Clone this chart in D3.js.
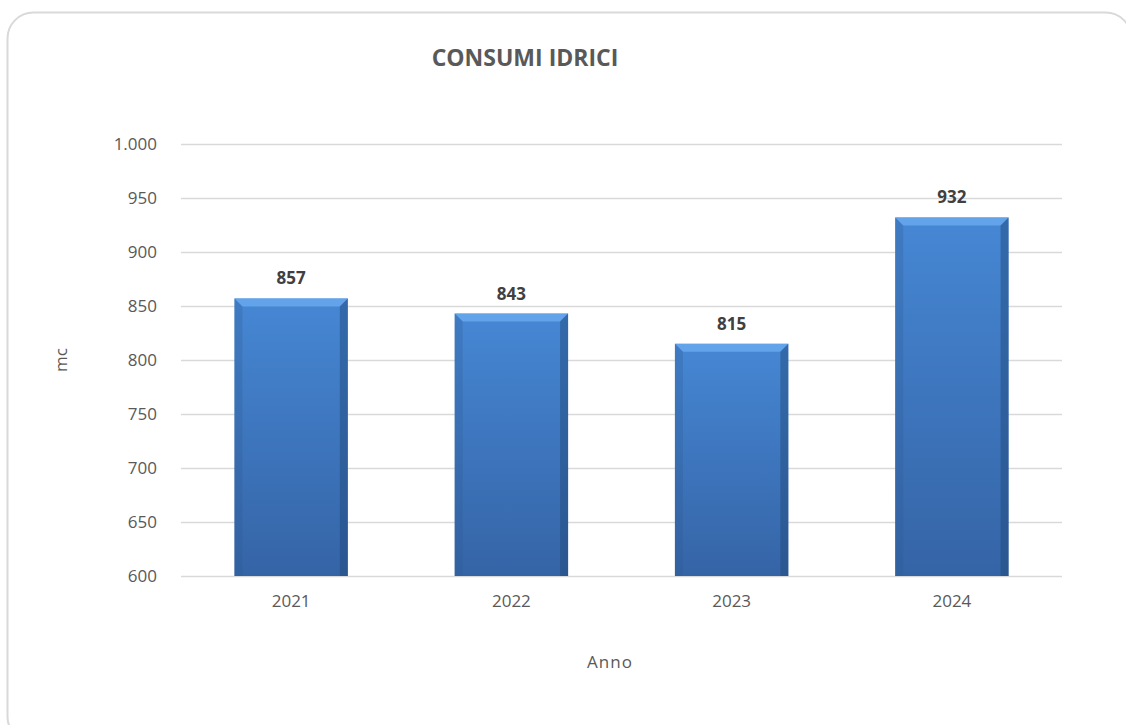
<!DOCTYPE html>
<html>
<head>
<meta charset="utf-8">
<script src="https://cdn.jsdelivr.net/npm/d3@7"></script>
<style>
  html, body { margin: 0; padding: 0; background: #fff; }
  svg text { font-family: "Open Sans", "Liberation Sans", sans-serif; }
</style>
</head>
<body>
<div id="chart"></div>
<script>
// dati
const anni = ["2021", "2022", "2023", "2024"];
const consumi = [857, 843, 815, 932];
const yTicks = [600, 650, 700, 750, 800, 850, 900, 950, 1000];
const titolo = "CONSUMI IDRICI";

const W = 1126, H = 725;
const margin = { left: 181, right: 64, top: 144, bottom: 149 };

const svg = d3.select("#chart").append("svg")
  .attr("width", W).attr("height", H);

// cornice arrotondata
svg.append("rect")
  .attr("x", 7.5).attr("y", 12.5)
  .attr("width", 1124).attr("height", 730)
  .attr("rx", 26)
  .attr("fill", "#fff").attr("stroke", "#d9d9d9").attr("stroke-width", 2);

const defs = svg.append("defs");
const grad = defs.append("linearGradient").attr("id", "barGrad")
  .attr("x1", 0).attr("y1", 0).attr("x2", 0).attr("y2", 1);
grad.append("stop").attr("offset", "0%").attr("stop-color", "#4687d4");
grad.append("stop").attr("offset", "100%").attr("stop-color", "#3564a6");

const x = d3.scaleBand().domain(anni)
  .range([margin.left, W - margin.right])
  .paddingInner(0.485).paddingOuter(0.2425);
const y = d3.scaleLinear().domain([600, 1000])
  .range([H - margin.bottom, margin.top]);

// griglia
svg.append("g").selectAll("line").data(yTicks).join("line")
  .attr("x1", margin.left).attr("x2", W - margin.right)
  .attr("y1", d => y(d) + 0.5).attr("y2", d => y(d) + 0.5)
  .attr("stroke", "#d9d9d9").attr("stroke-width", 1.3);

// asse y
const yAxis = svg.append("g")
  .attr("transform", `translate(${margin.left},0)`)
  .call(d3.axisLeft(y).tickValues(yTicks).tickSize(0).tickPadding(24)
    .tickFormat(d => d3.format(",")(d).replace(",", ".")));
yAxis.select(".domain").remove();
yAxis.selectAll("text").attr("fill", "#595959").style("font-size", "17px");

// asse x
const xAxis = svg.append("g")
  .attr("transform", `translate(0,${H - margin.bottom})`)
  .call(d3.axisBottom(x).tickSize(0).tickPadding(19));
xAxis.select(".domain").remove();
xAxis.selectAll("text").attr("fill", "#595959").style("font-size", "17px");

// barre con effetto smussato
const bev = 8;
const bars = svg.append("g").selectAll("g").data(anni).join("g");
bars.append("rect")
  .attr("x", d => x(d)).attr("y", (d, i) => y(consumi[i]))
  .attr("width", x.bandwidth())
  .attr("height", (d, i) => y(600) - y(consumi[i]))
  .attr("fill", "url(#barGrad)");
// bordo alto chiaro
bars.append("path")
  .attr("d", (d, i) => {
    const x0 = x(d), x1 = x(d) + x.bandwidth(), t = y(consumi[i]);
    return `M${x0},${t}L${x1},${t}L${x1 - bev},${t + bev}L${x0 + bev},${t + bev}Z`;
  })
  .attr("fill", "#6aaaf0").attr("opacity", 0.8);
// lati scuri
bars.append("path")
  .attr("d", (d, i) => {
    const x0 = x(d), t = y(consumi[i]), b = y(600);
    return `M${x0},${t}L${x0 + bev},${t + bev}L${x0 + bev},${b}L${x0},${b}Z`;
  })
  .attr("fill", "#2c5790").attr("opacity", 0.25);
bars.append("path")
  .attr("d", (d, i) => {
    const x1 = x(d) + x.bandwidth(), t = y(consumi[i]), b = y(600);
    return `M${x1},${t}L${x1 - bev},${t + bev}L${x1 - bev},${b}L${x1},${b}Z`;
  })
  .attr("fill", "#1f4677").attr("opacity", 0.45);

// etichette valori
svg.append("g").selectAll("text").data(anni).join("text")
  .attr("x", d => x(d) + x.bandwidth() / 2)
  .attr("y", (d, i) => y(consumi[i]) - 14)
  .attr("text-anchor", "middle")
  .attr("fill", "#404040").style("font-size", "17px").style("font-weight", "bold")
  .text((d, i) => consumi[i]);

// titolo
svg.append("text")
  .attr("x", 525).attr("y", 66).attr("text-anchor", "middle")
  .attr("fill", "#595959").style("font-size", "23px").style("font-weight", "bold")
  .text(titolo);

// titoli assi
svg.append("text")
  .attr("transform", "translate(67,360) rotate(-90)")
  .attr("text-anchor", "middle").attr("fill", "#595959").style("font-size", "17px")
  .text("mc");
svg.append("text")
  .attr("x", 610).attr("y", 668).attr("text-anchor", "middle")
  .attr("fill", "#595959").style("font-size", "17px").style("letter-spacing", "1px")
  .text("Anno");
</script>
</body>
</html>
